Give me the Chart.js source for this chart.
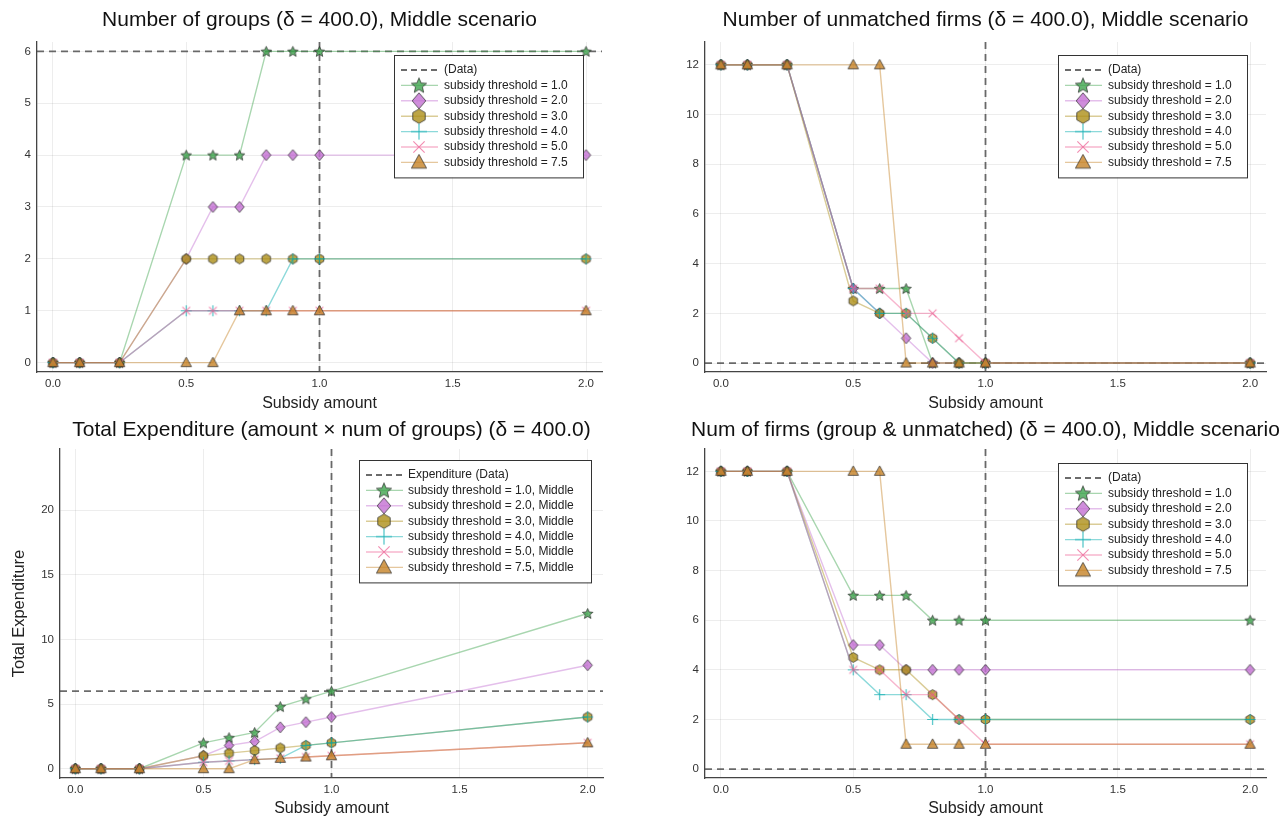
<!DOCTYPE html>
<html>
<head>
<meta charset="utf-8">
<title>Subsidy scenarios</title>
<script src="https://cdn.jsdelivr.net/npm/chart.js@4.4.1/dist/chart.umd.min.js"></script>
<style>
  html, body { margin: 0; padding: 0; background: #fff; }
  body { width: 1287px; height: 821px; position: relative; overflow: hidden; }
  canvas { position: absolute; }
</style>
</head>
<body>
<canvas id="groupsChart" width="640" height="410" style="left:0;top:0"></canvas>
<canvas id="unmatchedChart" width="647" height="410" style="left:640px;top:0"></canvas>
<canvas id="expenditureChart" width="640" height="411" style="left:0;top:410px"></canvas>
<canvas id="firmsChart" width="647" height="411" style="left:640px;top:410px"></canvas>
<script>
// x values (subsidy amount) shared by every series
const subsidy = [0.0, 0.1, 0.25, 0.5, 0.6, 0.7, 0.8, 0.9, 1.0, 2.0];
const thresholds = ['1.0', '2.0', '3.0', '4.0', '5.0', '7.5'];

// number of groups
const groupsThr1 = [0, 0, 0, 4, 4, 4, 6, 6, 6, 6];
const groupsThr2 = [0, 0, 0, 2, 3, 3, 4, 4, 4, 4];
const groupsThr3 = [0, 0, 0, 2, 2, 2, 2, 2, 2, 2];
const groupsThr4 = [0, 0, 0, 1, 1, 1, 1, 2, 2, 2];
const groupsThr5 = [0, 0, 0, 1, 1, 1, 1, 1, 1, 1];
const groupsThr75 = [0, 0, 0, 0, 0, 1, 1, 1, 1, 1];

// number of unmatched firms
const unmatchedThr1 = [12, 12, 12, 3, 3, 3, 0, 0, 0, 0];
const unmatchedThr2 = [12, 12, 12, 3, 2, 1, 0, 0, 0, 0];
const unmatchedThr3 = [12, 12, 12, 2.5, 2, 2, 1, 0, 0, 0];
const unmatchedThr4 = [12, 12, 12, 3, 2, 2, 1, 0, 0, 0];
const unmatchedThr5 = [12, 12, 12, 3, 3, 2, 2, 1, 0, 0];
const unmatchedThr75 = [12, 12, 12, 12, 12, 0, 0, 0, 0, 0];

// total expenditure
const expenditureThr1 = [0, 0, 0, 2, 2.4, 2.8, 4.8, 5.4, 6, 12];
const expenditureThr2 = [0, 0, 0, 1, 1.8, 2.1, 3.2, 3.6, 4, 8];
const expenditureThr3 = [0, 0, 0, 1, 1.2, 1.4, 1.6, 1.8, 2, 4];
const expenditureThr4 = [0, 0, 0, 0.5, 0.6, 0.7, 0.8, 1.8, 2, 4];
const expenditureThr5 = [0, 0, 0, 0.5, 0.6, 0.7, 0.8, 0.9, 1, 2];
const expenditureThr75 = [0, 0, 0, 0, 0, 0.7, 0.8, 0.9, 1, 2];

// number of firms (groups + unmatched)
const firmsThr1 = [12, 12, 12, 7, 7, 7, 6, 6, 6, 6];
const firmsThr2 = [12, 12, 12, 5, 5, 4, 4, 4, 4, 4];
const firmsThr3 = [12, 12, 12, 4.5, 4, 4, 3, 2, 2, 2];
const firmsThr4 = [12, 12, 12, 4, 3, 3, 2, 2, 2, 2];
const firmsThr5 = [12, 12, 12, 4, 4, 3, 3, 2, 1, 1];
const firmsThr75 = [12, 12, 12, 12, 12, 1, 1, 1, 1, 1];

// observed data (dashed reference lines)
const dataSubsidy = 1.0;
const dataGroups = 6;
const dataUnmatched = 0;
const dataExpenditure = 6;
const dataFirms = 0;

// tick labels
const xTicks = [0, 0.5, 1, 1.5, 2];
const groupTicks = [0, 1, 2, 3, 4, 5, 6];
const firmTicks = [0, 2, 4, 6, 8, 10, 12];
const expenditureTicks = [0, 5, 10, 15, 20];

const FONT = '"Liberation Sans", Arial, sans-serif';
Chart.defaults.font.family = FONT;
Chart.defaults.color = '#333';

const palette = ['#3ea44e', '#c371d2', '#ac8e18', '#00aaae', '#ed5e93', '#c68225'];
const shapes = ['star', 'diamond', 'hexagon', 'cross', 'xcross', 'triangle'];

function rgba(hex, a) {
    const n = parseInt(hex.slice(1), 16);
    return `rgba(${(n >> 16) & 255},${(n >> 8) & 255},${n & 255},${a})`;
}

function makeMarker(shape, color, size) {
    const dim = Math.ceil(size + 4);
    const c = document.createElement('canvas');
    c.width = dim;
    c.height = dim;
    const ctx = c.getContext('2d');
    const r = size / 2, cx = dim / 2, cy = dim / 2;
    ctx.beginPath();
    if (shape === 'cross' || shape === 'xcross') {
        const a0 = shape === 'cross' ? 0 : Math.PI / 4;
        for (let k = 0; k < 2; k++) {
            const a = a0 + k * Math.PI / 2;
            ctx.moveTo(cx - r * Math.cos(a), cy - r * Math.sin(a));
            ctx.lineTo(cx + r * Math.cos(a), cy + r * Math.sin(a));
        }
        ctx.strokeStyle = rgba(color, 0.7);
        ctx.lineWidth = 1.2;
        ctx.stroke();
        return c;
    }
    if (shape === 'star') {
        for (let i = 0; i < 10; i++) {
            const rr = i % 2 ? r * 0.45 : r;
            const a = -Math.PI / 2 + i * Math.PI / 5;
            ctx.lineTo(cx + rr * Math.cos(a), cy + 0.5 + rr * Math.sin(a));
        }
    } else if (shape === 'diamond') {
        ctx.moveTo(cx, cy - r);
        ctx.lineTo(cx + r * 0.85, cy);
        ctx.lineTo(cx, cy + r);
        ctx.lineTo(cx - r * 0.85, cy);
    } else if (shape === 'hexagon') {
        for (let i = 0; i < 6; i++) {
            const a = -Math.PI / 2 + i * Math.PI / 3;
            ctx.lineTo(cx + r * 0.9 * Math.cos(a), cy + r * 0.9 * Math.sin(a));
        }
    } else if (shape === 'triangle') {
        ctx.moveTo(cx, cy - r);
        ctx.lineTo(cx + r * 0.95, cy + r * 0.72);
        ctx.lineTo(cx - r * 0.95, cy + r * 0.72);
    }
    ctx.closePath();
    ctx.fillStyle = rgba(color, 0.8);
    ctx.fill();
    ctx.strokeStyle = 'rgba(40,40,40,0.7)';
    ctx.lineWidth = 1;
    ctx.stroke();
    return c;
}

const pointMarkers = shapes.map((s, i) => makeMarker(s, palette[i], 11));
const legendMarkers = shapes.map((s, i) => makeMarker(s, palette[i], 16));

function buildSeries(seriesList, suffix) {
    return seriesList.map((values, i) => ({
        label: `subsidy threshold = ${thresholds[i]}${suffix}`,
        data: subsidy.map((x, j) => ({ x, y: values[j] })),
        borderColor: rgba(palette[i], 0.45),
        backgroundColor: rgba(palette[i], 0.8),
        borderWidth: 1.4,
        pointStyle: pointMarkers[i],
        pointRadius: 5,
        pointHoverRadius: 5,
        tension: 0,
        fill: false,
        order: seriesList.length - 1 - i,
        legendMarker: legendMarkers[i],
        legendLine: rgba(palette[i], 0.45),
    }));
}

const refLines = {
    id: 'refLines',
    beforeDatasetsDraw(chart, args, opts) {
        const { ctx, chartArea: a, scales } = chart;
        ctx.save();
        ctx.beginPath();
        ctx.rect(a.left, a.top, a.right - a.left, a.bottom - a.top);
        ctx.clip();
        ctx.strokeStyle = 'rgba(70,70,70,0.8)';
        ctx.lineWidth = 1.8;
        ctx.setLineDash([7, 5]);
        const y = scales.y.getPixelForValue(opts.y);
        ctx.beginPath();
        ctx.moveTo(a.left, y);
        ctx.lineTo(a.right, y);
        ctx.stroke();
        const x = scales.x.getPixelForValue(opts.x);
        ctx.beginPath();
        ctx.moveTo(x, a.top);
        ctx.lineTo(x, a.bottom);
        ctx.stroke();
        ctx.restore();
    },
};

const panelTitle = {
    id: 'panelTitle',
    afterDraw(chart, args, opts) {
        const { ctx, chartArea: a } = chart;
        ctx.save();
        ctx.font = `21px ${FONT}`;
        ctx.fillStyle = '#111';
        ctx.textAlign = 'center';
        ctx.textBaseline = 'middle';
        ctx.fillText(opts.text, (a.left + a.right) / 2, opts.y);
        ctx.restore();
    },
};

const boxLegend = {
    id: 'boxLegend',
    afterDraw(chart, args, opts) {
        const { ctx, chartArea: a } = chart;
        const items = chart.data.datasets;
        const rowH = 15.4;
        const w = opts.width;
        const h = 14 + rowH * items.length + 16;
        const x0 = Math.round(a.right - opts.right - w);
        const y0 = Math.round(a.top + opts.top);
        ctx.save();
        ctx.fillStyle = '#fff';
        ctx.fillRect(x0, y0, w, h);
        ctx.strokeStyle = '#333';
        ctx.lineWidth = 1;
        ctx.strokeRect(x0 + 0.5, y0 + 0.5, w, h);
        ctx.font = `12px ${FONT}`;
        ctx.textBaseline = 'middle';
        let y = y0 + 15;
        ctx.strokeStyle = 'rgba(70,70,70,0.8)';
        ctx.lineWidth = 1.8;
        ctx.setLineDash([6, 4]);
        ctx.beginPath();
        ctx.moveTo(x0 + 7, y);
        ctx.lineTo(x0 + 44, y);
        ctx.stroke();
        ctx.setLineDash([]);
        ctx.fillStyle = '#222';
        ctx.fillText(opts.dataLabel, x0 + opts.textX, y);
        items.forEach((ds) => {
            y += rowH;
            ctx.strokeStyle = ds.legendLine;
            ctx.lineWidth = 1.4;
            ctx.beginPath();
            ctx.moveTo(x0 + 7, y);
            ctx.lineTo(x0 + 44, y);
            ctx.stroke();
            const m = ds.legendMarker;
            ctx.drawImage(m, x0 + 25 - m.width / 2, y - m.height / 2);
            ctx.fillStyle = '#222';
            ctx.fillText(ds.label, x0 + opts.textX, y);
        });
        ctx.restore();
    },
};

function makeChart(canvasId, cfg) {
    const canvas = document.getElementById(canvasId);
    const W = canvas.width, H = canvas.height;
    const tickFont = { size: 11.5 };
    return new Chart(canvas, {
        type: 'line',
        data: { datasets: buildSeries(cfg.series, cfg.suffix || '') },
        plugins: [refLines, panelTitle, boxLegend],
        options: {
            responsive: false,
            animation: false,
            layout: { padding: { left: 0, right: W - cfg.area.right, top: cfg.area.top, bottom: 0 } },
            scales: {
                x: {
                    type: 'linear',
                    min: -0.06,
                    max: 2.06,
                    afterBuildTicks: (s) => { s.ticks = xTicks.map((v) => ({ value: v })); },
                    afterFit: (s) => { s.height = H - cfg.area.bottom; },
                    ticks: { padding: 5, color: '#333', font: tickFont, maxRotation: 0, callback: (v) => v.toFixed(1) },
                    grid: { color: 'rgba(0,0,0,0.07)', drawTicks: false },
                    border: { display: true, color: '#444', width: 1.3 },
                    title: { display: true, text: 'Subsidy amount', color: '#222', font: { size: 16, lineHeight: 0.8 }, padding: { top: 0, bottom: cfg.xTitlePad } },
                },
                y: {
                    min: cfg.yMin,
                    max: cfg.yMax,
                    afterBuildTicks: (s) => { s.ticks = cfg.yTicks.map((v) => ({ value: v })); },
                    afterFit: (s) => { s.width = cfg.area.left; },
                    ticks: { padding: 6, color: '#333', font: tickFont, callback: (v) => String(v) },
                    grid: { color: 'rgba(0,0,0,0.07)', drawTicks: false },
                    border: { display: true, color: '#444', width: 1.3 },
                    title: cfg.yTitle
                        ? { display: true, text: cfg.yTitle, color: '#222', font: { size: 16.5 }, padding: { top: 10, bottom: 0 } }
                        : { display: false },
                },
            },
            plugins: {
                legend: { display: false },
                tooltip: { enabled: false },
                refLines: { x: dataSubsidy, y: cfg.dataY },
                panelTitle: { text: cfg.title, y: 20 },
                boxLegend: cfg.legend,
            },
        },
    });
}

makeChart('groupsChart', {
    title: 'Number of groups (δ = 400.0), Middle scenario',
    series: [groupsThr1, groupsThr2, groupsThr3, groupsThr4, groupsThr5, groupsThr75],
    area: { left: 37, right: 602, top: 42, bottom: 372 },
    yMin: -0.18, yMax: 6.18, yTicks: groupTicks,
    dataY: dataGroups,
    xTitlePad: 0,
    legend: { width: 189, right: 19, top: 13, textX: 50, dataLabel: '(Data)' },
});

makeChart('unmatchedChart', {
    title: 'Number of unmatched firms (δ = 400.0), Middle scenario',
    series: [unmatchedThr1, unmatchedThr2, unmatchedThr3, unmatchedThr4, unmatchedThr5, unmatchedThr75],
    area: { left: 65, right: 626, top: 42, bottom: 372 },
    yMin: -0.36, yMax: 12.92, yTicks: firmTicks,
    dataY: dataUnmatched,
    xTitlePad: 0,
    legend: { width: 189, right: 19, top: 13, textX: 50, dataLabel: '(Data)' },
});

makeChart('expenditureChart', {
    title: 'Total Expenditure (amount × num of groups) (δ = 400.0)',
    series: [expenditureThr1, expenditureThr2, expenditureThr3, expenditureThr4, expenditureThr5, expenditureThr75],
    suffix: ', Middle',
    area: { left: 60, right: 603, top: 39, bottom: 368 },
    yMin: -0.72, yMax: 24.72, yTicks: expenditureTicks,
    yTitle: 'Total Expenditure',
    dataY: dataExpenditure,
    xTitlePad: 6,
    legend: { width: 232, right: 12, top: 11, textX: 49, dataLabel: 'Expenditure (Data)' },
});

makeChart('firmsChart', {
    title: 'Num of firms (group & unmatched) (δ = 400.0), Middle scenario',
    series: [firmsThr1, firmsThr2, firmsThr3, firmsThr4, firmsThr5, firmsThr75],
    area: { left: 65, right: 626, top: 39, bottom: 368 },
    yMin: -0.36, yMax: 12.9, yTicks: firmTicks,
    dataY: dataFirms,
    xTitlePad: 6,
    legend: { width: 189, right: 19, top: 14, textX: 50, dataLabel: '(Data)' },
});
</script>
</body>
</html>
